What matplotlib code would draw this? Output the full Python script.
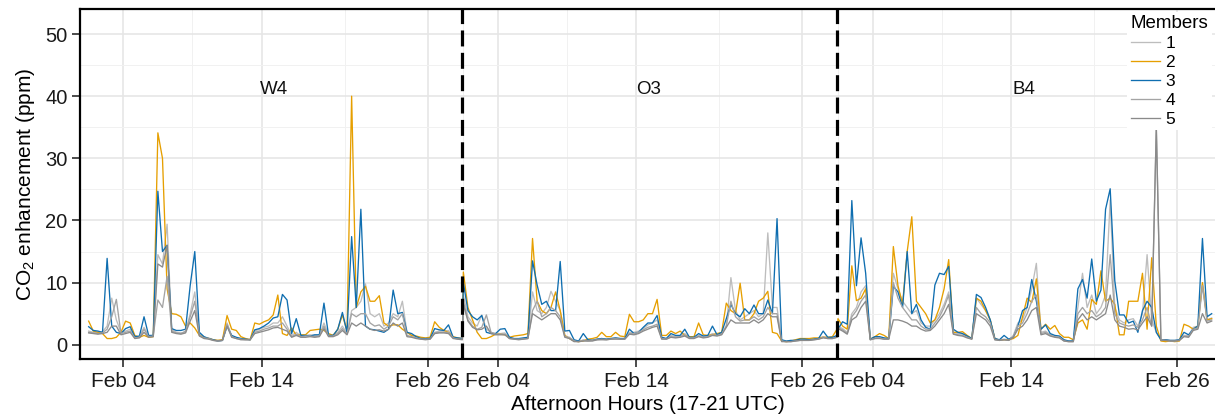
import numpy as np
import matplotlib.pyplot as plt

plt.rcParams['font.family'] = ['Liberation Sans', 'DejaVu Sans']
plt.rcParams['mathtext.default'] = 'regular'

sites = ['W4', 'O3', 'B4']
members = ['1', '2', '3', '4', '5']
colors = ['#bdbdbd', '#e69f00', '#0f6eb0', '#a4a4a4', '#8a8a8a']
tick_days = [3, 13, 25]
tick_names = ['Feb 04', 'Feb 14', 'Feb 26']

# CO2 enhancement (ppm), three afternoon values per day from Feb 01
w4_1 = [2.2, 2.0, 2.0, 2.1, 3.0, 7.5, 4.0, 2.0, 2.2, 2.5, 1.2, 1.3, 2.8, 1.4, 1.5, 14.5, 13.0,
        19.4, 2.5, 2.0, 1.9, 2.0, 5.0, 8.5, 1.8, 1.2, 1.1, 0.8, 0.7, 0.8, 3.5, 1.4, 1.1, 1.0, 0.9,
        0.9, 2.2, 2.5, 2.8, 3.0, 3.5, 3.5, 4.5, 3.0, 1.5, 2.0, 1.4, 1.5, 1.6, 1.5, 1.5, 3.5, 1.6,
        1.6, 2.0, 3.0, 1.8, 5.5, 6.0, 7.0, 9.8, 5.0, 4.5, 5.0, 3.0, 3.5, 5.0, 4.5, 7.0, 2.0, 1.5,
        1.2, 1.0, 0.9, 1.0, 2.0, 2.2, 2.2, 2.3, 1.2, 1.0, 0.9]
w4_2 = [3.8, 2.2, 2.0, 1.8, 1.0, 1.0, 1.2, 2.0, 3.8, 3.5, 1.5, 1.2, 1.5, 1.2, 1.3, 34.1, 30.0,
        9.0, 5.0, 4.9, 4.5, 3.0, 3.5, 2.7, 1.5, 1.2, 1.0, 0.8, 0.7, 0.8, 4.7, 2.5, 2.3, 1.3, 1.0,
        0.8, 3.5, 3.3, 3.7, 4.0, 4.8, 8.0, 1.8, 1.5, 2.7, 1.5, 1.6, 1.6, 2.3, 2.4, 2.5, 2.3, 1.8,
        1.5, 2.5, 4.8, 2.2, 40.0, 6.0, 8.5, 9.4, 7.0, 7.0, 7.9, 3.5, 3.0, 3.2, 3.2, 2.5, 2.0, 1.5,
        1.4, 1.2, 1.1, 1.2, 3.7, 2.8, 2.3, 2.0, 1.3, 1.1, 1.0]
w4_3 = [2.9, 2.3, 2.2, 2.0, 13.9, 3.0, 2.0, 1.8, 2.6, 2.9, 1.3, 1.4, 4.5, 1.5, 1.5, 24.7, 15.0,
        16.0, 2.6, 2.3, 2.3, 2.5, 9.5, 15.0, 2.0, 1.3, 1.0, 0.8, 0.6, 0.7, 3.0, 1.5, 1.2, 1.0, 0.9,
        0.8, 2.4, 2.6, 3.0, 3.5, 4.3, 4.5, 8.1, 7.2, 1.8, 4.2, 1.5, 1.5, 1.4, 1.6, 1.6, 6.7, 1.5,
        1.5, 2.5, 5.2, 2.0, 17.4, 6.0, 21.8, 3.0, 2.5, 2.4, 2.2, 2.0, 2.5, 8.8, 5.0, 5.2, 2.0, 1.8,
        1.3, 1.0, 1.0, 1.0, 2.6, 2.4, 2.3, 3.2, 1.2, 1.1, 1.0]
w4_4 = [2.0, 1.9, 1.8, 1.9, 2.5, 4.5, 7.3, 1.8, 2.0, 2.2, 1.1, 1.2, 2.5, 1.3, 1.4, 7.2, 6.0,
        11.0, 2.2, 1.9, 1.8, 2.2, 4.5, 7.0, 1.5, 1.1, 1.0, 0.7, 0.6, 0.7, 3.3, 1.3, 1.0, 0.9, 0.8,
        0.8, 2.0, 2.2, 2.5, 2.7, 3.0, 3.0, 3.5, 2.5, 1.3, 1.7, 1.3, 1.4, 1.4, 1.3, 1.4, 3.0, 1.4,
        1.4, 1.8, 2.6, 1.7, 5.0, 4.5, 5.0, 5.0, 3.5, 3.0, 3.2, 2.5, 3.0, 4.5, 4.0, 5.0, 1.5, 1.3,
        1.1, 0.9, 0.9, 0.9, 1.9, 2.0, 2.0, 2.0, 1.1, 0.9, 0.9]
w4_5 = [1.9, 1.8, 1.7, 1.8, 2.0, 3.0, 3.0, 1.6, 1.8, 2.0, 1.0, 1.1, 2.0, 1.2, 1.3, 13.0, 12.5,
        16.0, 2.0, 1.8, 1.7, 1.9, 3.8, 5.5, 1.4, 1.0, 0.9, 0.7, 0.6, 0.7, 3.0, 1.2, 1.0, 0.8, 0.8,
        0.8, 1.8, 2.0, 2.2, 2.4, 2.7, 2.8, 2.5, 2.2, 1.2, 1.5, 1.2, 1.2, 1.3, 1.2, 1.3, 2.6, 1.3,
        1.3, 1.6, 2.3, 1.6, 3.5, 3.0, 3.5, 3.0, 2.5, 2.3, 2.4, 2.2, 2.5, 3.5, 3.0, 3.5, 1.3, 1.2,
        1.0, 0.9, 0.8, 0.9, 1.8, 1.9, 1.9, 1.8, 1.0, 0.9, 0.8]

o3_1 = [8.0, 4.5, 3.5, 3.0, 4.8, 2.5, 2.0, 1.8, 1.8, 1.9, 1.1, 1.0, 0.9, 1.0, 1.1, 8.5, 5.5,
        5.0, 6.0, 8.6, 7.0, 5.5, 1.5, 1.0, 0.6, 0.5, 0.8, 0.7, 0.8, 0.9, 1.0, 0.9, 1.0, 1.1, 1.0,
        1.0, 2.0, 2.0, 2.2, 2.6, 3.2, 3.5, 4.0, 1.1, 1.0, 1.5, 1.3, 1.4, 1.8, 1.2, 1.2, 1.5, 1.3,
        1.4, 1.8, 1.6, 1.8, 3.0, 10.8, 5.5, 4.0, 4.5, 5.0, 5.5, 4.5, 5.0, 18.0, 6.0, 6.0, 0.6, 0.5,
        0.6, 0.7, 0.8, 0.8, 0.8, 0.9, 1.0, 1.3, 1.1, 1.1, 1.3]
o3_2 = [11.7, 6.0, 4.0, 2.0, 1.0, 1.0, 1.3, 1.7, 1.7, 1.6, 1.2, 1.4, 1.5, 1.6, 1.8, 17.1, 7.0,
        5.5, 5.0, 6.0, 8.5, 5.5, 1.5, 1.0, 0.6, 0.5, 0.6, 0.9, 1.0, 1.2, 2.0, 1.3, 1.3, 2.0, 1.4,
        1.3, 4.9, 3.7, 3.7, 4.0, 5.0, 5.0, 7.3, 1.5, 1.5, 2.2, 1.8, 2.2, 1.5, 1.3, 1.3, 3.5, 1.6,
        1.5, 1.6, 1.8, 2.0, 6.7, 5.5, 5.0, 9.9, 4.0, 4.0, 5.0, 7.0, 7.5, 8.6, 2.0, 1.8, 0.6, 0.5,
        0.6, 0.8, 1.0, 1.0, 1.0, 1.1, 1.1, 1.2, 1.2, 1.3, 2.5]
o3_3 = [10.0, 5.5, 4.5, 4.0, 4.7, 2.0, 1.8, 1.8, 2.5, 2.6, 1.2, 1.0, 1.0, 1.1, 1.2, 13.5, 9.6,
        6.5, 7.0, 5.5, 5.5, 13.4, 2.2, 2.3, 0.8, 0.6, 1.8, 0.8, 0.7, 0.9, 1.0, 0.9, 1.0, 1.1, 1.0,
        1.0, 2.5, 1.8, 2.0, 2.8, 3.5, 3.5, 4.7, 1.2, 1.0, 1.8, 1.5, 1.5, 2.5, 1.2, 1.2, 1.8, 1.4,
        1.5, 3.0, 1.6, 2.0, 4.2, 6.5, 5.0, 4.5, 5.8, 5.0, 6.4, 5.0, 5.0, 7.2, 5.0, 20.3, 0.8, 0.6,
        0.7, 0.7, 0.9, 0.9, 0.8, 0.9, 1.0, 2.2, 1.2, 1.2, 1.5]
o3_4 = [7.0, 4.0, 3.0, 2.5, 2.8, 4.8, 2.0, 1.7, 1.7, 1.7, 1.0, 0.9, 0.9, 0.9, 1.0, 5.5, 7.0,
        4.5, 5.0, 6.0, 5.5, 4.5, 1.3, 1.2, 0.6, 0.5, 0.7, 0.6, 0.7, 0.8, 0.9, 0.8, 0.9, 1.0, 0.9,
        0.9, 1.8, 1.8, 2.0, 2.4, 2.8, 3.0, 3.3, 1.0, 0.9, 1.3, 1.2, 1.3, 1.6, 1.1, 1.1, 1.4, 1.2,
        1.3, 1.6, 1.5, 1.7, 3.0, 7.0, 4.5, 3.8, 4.0, 4.0, 4.5, 4.0, 4.5, 6.0, 5.0, 5.0, 0.6, 0.5,
        0.5, 0.6, 0.7, 0.7, 0.7, 0.8, 0.9, 1.2, 1.0, 1.0, 1.2]
o3_5 = [6.5, 3.8, 2.8, 2.4, 2.5, 3.0, 1.8, 1.6, 1.6, 1.6, 1.0, 0.9, 0.8, 0.9, 1.0, 5.0, 4.5,
        4.0, 4.5, 5.0, 5.0, 4.0, 1.2, 1.0, 0.5, 0.5, 0.6, 0.6, 0.6, 0.8, 0.8, 0.8, 0.9, 0.9, 0.9,
        0.9, 1.7, 1.6, 1.8, 2.2, 2.5, 2.8, 3.0, 0.9, 0.9, 1.2, 1.1, 1.2, 1.4, 1.0, 1.0, 1.3, 1.1,
        1.2, 1.5, 1.4, 1.6, 2.8, 4.0, 3.5, 3.5, 3.5, 3.5, 4.0, 3.5, 4.0, 5.0, 4.5, 4.5, 0.5, 0.5,
        0.5, 0.6, 0.7, 0.7, 0.7, 0.8, 0.9, 1.1, 1.0, 1.0, 1.2]

b4_1 = [3.0, 2.6, 2.0, 5.0, 6.0, 8.5, 9.5, 0.9, 1.1, 1.2, 1.0, 1.0, 11.5, 9.0, 7.0, 6.0, 5.0,
        5.5, 3.5, 3.0, 3.0, 4.0, 5.0, 6.5, 8.5, 2.0, 1.8, 1.7, 1.3, 1.0, 7.5, 6.5, 5.5, 4.0, 0.9,
        0.8, 0.9, 0.8, 1.5, 3.5, 4.0, 6.0, 9.0, 13.1, 2.0, 2.2, 1.6, 1.4, 1.3, 0.7, 0.6, 0.6, 6.0,
        11.5, 6.0, 8.0, 5.0, 6.0, 8.0, 23.3, 6.0, 4.0, 3.5, 4.0, 4.2, 3.0, 5.0, 14.5, 4.0, 2.0, 0.8,
        0.8, 0.7, 0.7, 0.8, 1.5, 1.5, 2.8, 3.0, 9.8, 4.0, 4.3]
b4_2 = [4.2, 3.0, 2.5, 12.7, 7.1, 7.5, 9.0, 0.9, 1.3, 1.8, 1.5, 1.0, 15.8, 9.5, 6.5, 15.0, 20.6,
        7.0, 6.0, 5.0, 3.5, 4.0, 6.0, 9.0, 13.7, 2.0, 2.0, 2.1, 1.5, 1.0, 7.5, 7.0, 5.5, 4.0, 1.0,
        0.7, 0.8, 0.8, 1.0, 1.5, 4.5, 7.5, 6.8, 10.6, 2.5, 3.3, 2.5, 3.1, 1.8, 1.2, 1.2, 0.8, 3.5,
        4.0, 2.5, 7.3, 6.5, 11.9, 7.0, 7.5, 6.5, 1.6, 1.6, 7.0, 7.0, 7.0, 11.5, 2.5, 14.0, 3.0, 0.6,
        0.5, 0.6, 0.5, 0.6, 3.3, 3.0, 2.5, 3.0, 10.0, 4.0, 4.2]
b4_3 = [2.5, 3.7, 3.3, 23.2, 9.5, 17.2, 11.5, 0.9, 1.3, 1.3, 1.1, 1.0, 9.4, 8.5, 6.0, 15.0, 5.0,
        6.5, 4.0, 2.8, 2.5, 9.6, 11.5, 11.3, 12.6, 2.5, 2.0, 1.8, 1.4, 1.0, 8.1, 7.6, 6.0, 4.0, 1.0,
        0.8, 1.5, 0.9, 1.2, 3.0, 5.5, 6.0, 10.5, 7.0, 2.5, 3.2, 1.8, 1.5, 1.4, 0.8, 0.6, 0.6, 9.0,
        10.5, 7.5, 13.8, 7.0, 8.8, 21.8, 25.1, 10.3, 4.8, 4.8, 3.5, 3.8, 2.0, 5.5, 7.0, 6.0, 2.0, 0.8,
        0.8, 0.7, 0.7, 0.8, 2.0, 1.6, 2.5, 3.0, 17.1, 4.5, 5.0]
b4_4 = [2.8, 2.4, 1.8, 4.5, 5.5, 7.0, 8.0, 0.8, 1.0, 1.1, 0.9, 0.9, 10.0, 7.5, 6.0, 5.0, 4.0,
        4.0, 3.0, 2.5, 2.5, 3.5, 4.5, 6.0, 8.0, 1.8, 1.6, 1.5, 1.2, 0.9, 6.0, 5.0, 4.5, 3.5, 0.8,
        0.7, 0.8, 0.7, 1.3, 3.0, 3.5, 5.0, 7.0, 8.0, 1.8, 2.0, 1.5, 1.3, 1.2, 0.6, 0.5, 0.5, 5.0,
        6.0, 5.0, 5.5, 4.5, 5.0, 6.0, 14.5, 5.0, 3.5, 3.2, 3.0, 3.2, 2.8, 4.0, 6.0, 3.0, 35.0, 0.8,
        0.7, 0.6, 0.6, 0.7, 1.4, 1.3, 2.5, 2.7, 9.5, 3.8, 4.0]
b4_5 = [2.6, 2.2, 1.7, 4.0, 4.5, 6.0, 7.0, 0.8, 1.0, 1.0, 0.9, 0.9, 4.0, 4.0, 3.8, 3.5, 3.0,
        3.0, 2.5, 2.2, 2.3, 3.0, 4.0, 5.0, 6.5, 1.7, 1.5, 1.4, 1.1, 0.9, 5.0, 4.5, 4.0, 3.0, 0.8,
        0.7, 0.8, 0.7, 1.2, 2.5, 3.0, 4.0, 5.5, 6.0, 1.6, 1.8, 1.4, 1.2, 1.1, 0.6, 0.5, 0.5, 4.0,
        5.0, 4.0, 4.5, 4.0, 4.5, 5.0, 8.0, 4.0, 3.0, 2.8, 2.5, 2.6, 2.4, 3.5, 4.5, 3.0, 35.0, 0.7,
        0.7, 0.6, 0.6, 0.7, 1.3, 1.2, 2.3, 2.5, 5.0, 3.5, 3.8]

data = {'W4': [w4_1, w4_2, w4_3, w4_4, w4_5],
        'O3': [o3_1, o3_2, o3_3, o3_4, o3_5],
        'B4': [b4_1, b4_2, b4_3, b4_4, b4_5]}

shift = 27.07  # days between site panels on the shared time axis

fig, ax = plt.subplots(figsize=(12.15, 4.17), dpi=100)
fig.subplots_adjust(left=0.0658, right=1.0, bottom=0.139, top=0.978)

for m in range(5):
    xs, ys = [], []
    for k, site in enumerate(sites):
        y = np.array(data[site][m])
        xs.append(k * shift + 0.5 + np.arange(len(y)) / 3)
        ys.append(y)
    ax.plot(np.concatenate(xs), np.concatenate(ys), color=colors[m], lw=0.95, label=members[m])

for k in (1, 2):
    ax.axvline(k * shift + 0.4, color='black', lw=2.3, linestyle=(0, (5, 2)), zorder=3)

for k, site in enumerate(sites):
    ax.text(k * shift + 13.9, 41, site, ha='center', va='center', fontsize=13.5, color='#111111')

major = np.array([k * shift + d for k in range(3) for d in tick_days])
ax.set_xticks(major)
ax.set_xticklabels(tick_names * 3)
ax.set_xticks((major[:-1] + major[1:]) / 2, minor=True)
ax.set_yticks(range(0, 51, 10))
ax.set_yticks(range(5, 50, 10), minor=True)
ax.set_xlim(-0.13, 81.88)
ax.set_ylim(-2.3, 54)

ax.grid(which='major', color='#e6e6e6', lw=1.2)
ax.grid(which='minor', color='#f1f1f1', lw=0.7)
ax.set_axisbelow(True)
ax.tick_params(which='major', length=5.5, width=1.1, colors='#1a1a1a', pad=3.5)
ax.tick_params(axis='x', labelsize=15)
ax.tick_params(axis='y', labelsize=14.5)
ax.tick_params(which='minor', length=0)
for side in ['left', 'bottom', 'top']:
    ax.spines[side].set_linewidth(1.6)
    ax.spines[side].set_color('black')
ax.spines['right'].set_visible(False)

ax.set_xlabel('Afternoon Hours (17-21 UTC)', fontsize=15, labelpad=3.5)
ax.set_ylabel('CO$_2$ enhancement (ppm)', fontsize=15, labelpad=6)

leg = ax.legend(title='Members', loc='upper left', bbox_to_anchor=(0.9225, 0.993),
                borderaxespad=0, fancybox=False, edgecolor='none', framealpha=1,
                fontsize=12.5, title_fontsize=13.5, handlelength=1.7, handletextpad=0.3,
                labelspacing=0.22, borderpad=0.2, alignment='left')
leg.set_zorder(5)

plt.savefig('out.png', dpi=100)
